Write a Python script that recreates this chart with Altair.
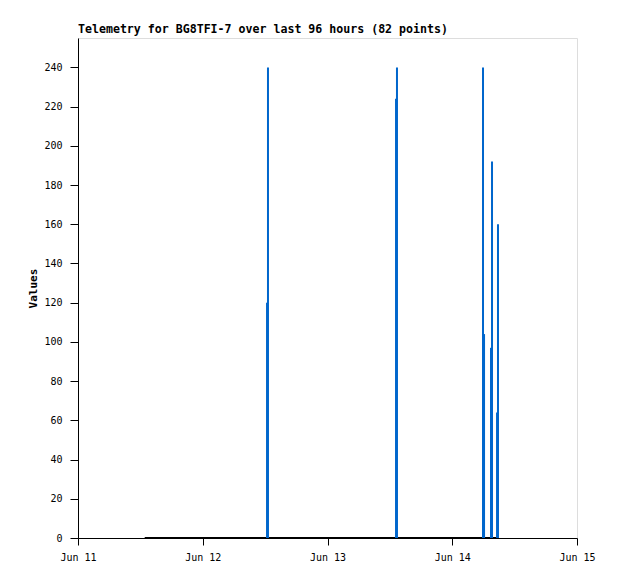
import altair as alt
import pandas as pd

# Spike (impulse) points: timestamps (UTC) and values
spike_times = [
    "2024-06-12T12:22:00Z", "2024-06-12T12:33:00Z",
    "2024-06-13T13:11:00Z", "2024-06-13T13:22:00Z",
    "2024-06-14T05:55:00Z", "2024-06-14T06:07:00Z",
    "2024-06-14T07:27:00Z", "2024-06-14T07:39:00Z",
    "2024-06-14T08:37:00Z", "2024-06-14T08:48:00Z",
]
spike_values = [120, 240, 224, 240, 240, 104, 97, 192, 64, 160]

# Zero-value baseline span (first and last point of the series)
base_times = ["2024-06-11T12:50:00Z", "2024-06-14T08:53:00Z"]
base_values = [0, 0]

tick_days = [11, 12, 13, 14, 15]
y_ticks = list(range(0, 241, 20))

spikes = pd.DataFrame({"t": spike_times, "v": spike_values})
base = pd.DataFrame({"t": base_times, "v": base_values})

FONT = "DejaVu Sans Mono"

x_enc = alt.X(
    "t:T",
    scale=alt.Scale(type="utc", domain=[alt.DateTime(year=2024, month=6, date=11, utc=True),
                                        alt.DateTime(year=2024, month=6, date=15, utc=True)]),
    axis=alt.Axis(
        title=None,
        values=[alt.DateTime(year=2024, month=6, date=d, utc=True) for d in tick_days],
        labelExpr="utcFormat(datum.value, '%b %d')",
        labelFlush=False,
        grid=False,
        tickSize=7,
        labelPadding=7,
        domainColor="black",
        tickColor="black",
        labelFont=FONT,
        labelFontSize=10,
        labelColor="black",
    ),
)

y_scale = alt.Scale(domain=[0, 255], nice=False)
y_axis = alt.Axis(
    title="Values",
    values=y_ticks,
    grid=False,
    tickSize=8,
    labelPadding=8,
    domainColor="black",
    tickColor="black",
    labelFont=FONT,
    labelFontSize=10,
    labelColor="black",
    titleFont=FONT,
    titleFontSize=11,
    titleFontWeight="bold",
    titleColor="black",
    titlePadding=5,
)

baseline = alt.Chart(base).mark_line(color="black", strokeWidth=2).encode(
    x=x_enc,
    y=alt.Y("v:Q", scale=y_scale, axis=y_axis),
)

bars = alt.Chart(spikes).mark_rule(color="#0066CC", strokeWidth=2).encode(
    x=alt.X("t:T"),
    y=alt.Y("v:Q"),
    y2=alt.datum(0),
)

chart = (
    alt.layer(baseline, bars)
    .properties(
        width=499,
        height=500,
        autosize=alt.AutoSizeParams(type="none"),
        padding={"left": 70, "top": 30, "right": 30, "bottom": 30},
        title=alt.TitleParams(
            "Telemetry for BG8TFI-7 over last 96 hours (82 points)",
            anchor="start",
            frame="group",
            font=FONT,
            fontSize=11.6,
            fontWeight="bold",
            color="black",
            offset=2,
        ),
    )
    .configure_view(stroke="#444444", strokeWidth=1)
    .configure(background="white")
)

chart.save("out.html", embed_options={"renderer": "svg", "actions": False})
